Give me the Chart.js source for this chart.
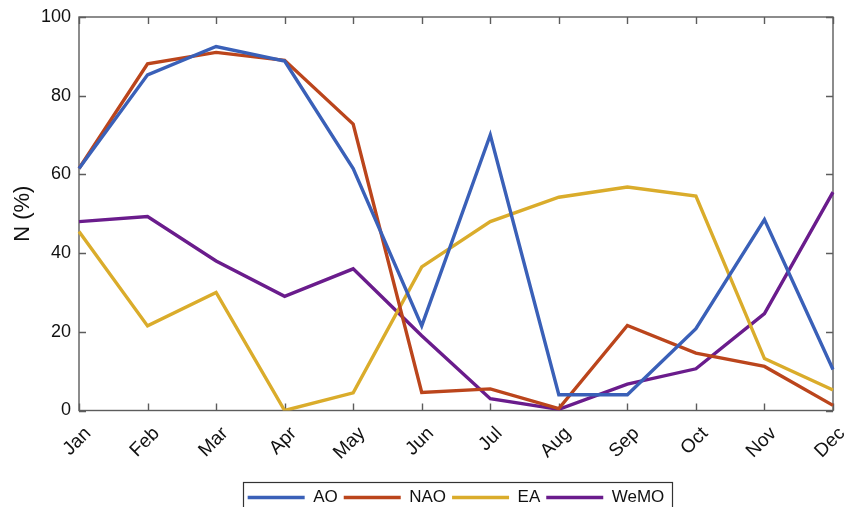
<!DOCTYPE html>
<html>
<head>
<meta charset="utf-8">
<script src="https://cdn.jsdelivr.net/npm/chart.js@4/dist/chart.umd.min.js"></script>
<style>
  html, body { margin: 0; padding: 0; background: #fff; overflow: hidden; }
  #wrap { width: 846px; height: 516px; position: relative; }
</style>
</head>
<body>
<div id="wrap"><canvas id="chart"></canvas></div>
<script>
// Monthly frequency (%) of each teleconnection pattern
const months = ['Jan', 'Feb', 'Mar', 'Apr', 'May', 'Jun', 'Jul', 'Aug', 'Sep', 'Oct', 'Nov', 'Dec'];
const aoValues   = [61.5, 85.3, 92.5, 88.8, 61.5, 21.5, 70.0, 4.0, 4.0, 20.8, 48.5, 10.4];
const naoValues  = [61.5, 88.1, 91.0, 89.0, 72.8, 4.6, 5.5, 0.5, 21.6, 14.6, 11.2, 1.3];
const eaValues   = [45.5, 21.5, 30.0, 0.0, 4.5, 36.5, 48.0, 54.2, 56.8, 54.5, 13.2, 5.2];
const wemoValues = [48.0, 49.3, 38.0, 29.0, 36.0, 19.0, 3.0, 0.3, 6.7, 10.6, 24.6, 55.5];
const yTickValues = [0, 20, 40, 60, 80, 100];

const FONT = '"Liberation Sans", Arial, Helvetica, sans-serif';
const AXIS_COLOR = '#5c5c5c';
const TICK_LEN = 7;

// Boxed axes with inward-pointing ticks on all four sides
const boxAxes = {
  id: 'boxAxes',
  beforeDatasetsDraw(chart) {
    const { ctx, chartArea: a, scales: { x, y } } = chart;
    ctx.save();
    ctx.strokeStyle = AXIS_COLOR;
    ctx.lineWidth = 1.4;
    ctx.strokeRect(a.left, a.top, a.right - a.left, a.bottom - a.top);
    ctx.beginPath();
    x.ticks.forEach((t, i) => {
      const px = Math.round(x.getPixelForTick(i)) + 0.5;
      ctx.moveTo(px, a.bottom); ctx.lineTo(px, a.bottom - TICK_LEN);
      ctx.moveTo(px, a.top); ctx.lineTo(px, a.top + TICK_LEN);
    });
    y.ticks.forEach((t, i) => {
      const py = Math.round(y.getPixelForTick(i)) + 0.5;
      ctx.moveTo(a.left, py); ctx.lineTo(a.left + TICK_LEN, py);
      ctx.moveTo(a.right, py); ctx.lineTo(a.right - TICK_LEN, py);
    });
    ctx.stroke();
    ctx.restore();
  }
};

// Center the legend under the plot area and frame it
const legendFrame = {
  id: 'legendFrame',
  afterLayout(chart) {
    const lg = chart.legend;
    lg.left = chart.chartArea.left;
    lg.right = chart.chartArea.right;
  },
  afterDraw(chart) {
    const lg = chart.legend;
    const boxes = lg.legendHitBoxes;
    if (!boxes || !boxes.length) return;
    const first = boxes[0], last = boxes[boxes.length - 1];
    const ctx = chart.ctx;
    ctx.save();
    ctx.strokeStyle = '#333';
    ctx.lineWidth = 1.2;
    const left = Math.round(first.left - 5) + 0.5;
    const right = Math.round(last.left + last.width + 8) + 0.5;
    const top = Math.round(lg.top) - 0.5;
    ctx.strokeRect(left, top, right - left, 60);
    ctx.restore();
  }
};

const series = [
  { label: 'AO',   data: aoValues,   color: '#3a60b8' },
  { label: 'NAO',  data: naoValues,  color: '#bb451c' },
  { label: 'EA',   data: eaValues,   color: '#daac2b' },
  { label: 'WeMO', data: wemoValues, color: '#6a1c8c' }
];

new Chart(document.getElementById('chart'), {
  type: 'line',
  data: {
    labels: months,
    datasets: series.map(s => ({
      label: s.label,
      data: s.data,
      borderColor: s.color,
      backgroundColor: s.color,
      borderWidth: 3.4,
      pointRadius: 0,
      tension: 0,
      fill: false
    }))
  },
  options: {
    responsive: true,
    maintainAspectRatio: false,
    animation: false,
    layout: { padding: { left: 0, right: 13, top: 17, bottom: 0 } },
    plugins: {
      tooltip: { enabled: false },
      legend: {
        position: 'bottom',
        align: 'center',
        labels: {
          usePointStyle: true,
          pointStyle: 'line',
          pointStyleWidth: 57,
          padding: 6,
          color: '#111',
          font: { family: FONT, size: 17 }
        }
      }
    },
    scales: {
      x: {
        offset: false,
        grid: { display: false, drawTicks: false },
        border: { display: false },
        afterFit(scale) {
          scale.height = 72.5;
          scale.paddingLeft = 0;
          scale.paddingRight = 0;
        },
        ticks: {
          autoSkip: false,
          minRotation: 45,
          maxRotation: 45,
          padding: 12,
          labelOffset: 9,
          color: '#111',
          font: { family: FONT, size: 19 }
        }
      },
      y: {
        min: 0,
        max: 100,
        grid: { display: false, drawTicks: false },
        border: { display: false },
        afterFit(scale) {
          scale.width = 79;
          scale.paddingTop = 0;
          scale.paddingBottom = 0;
        },
        afterBuildTicks(scale) { scale.ticks = yTickValues.map(v => ({ value: v })); },
        title: {
          display: true,
          text: 'N (%)',
          color: '#111',
          padding: { top: 10, bottom: 0 },
          font: { family: FONT, size: 22 }
        },
        ticks: {
          padding: 8,
          color: '#111',
          font: { family: FONT, size: 18 }
        }
      }
    }
  },
  plugins: [boxAxes, legendFrame]
});
</script>
</body>
</html>
